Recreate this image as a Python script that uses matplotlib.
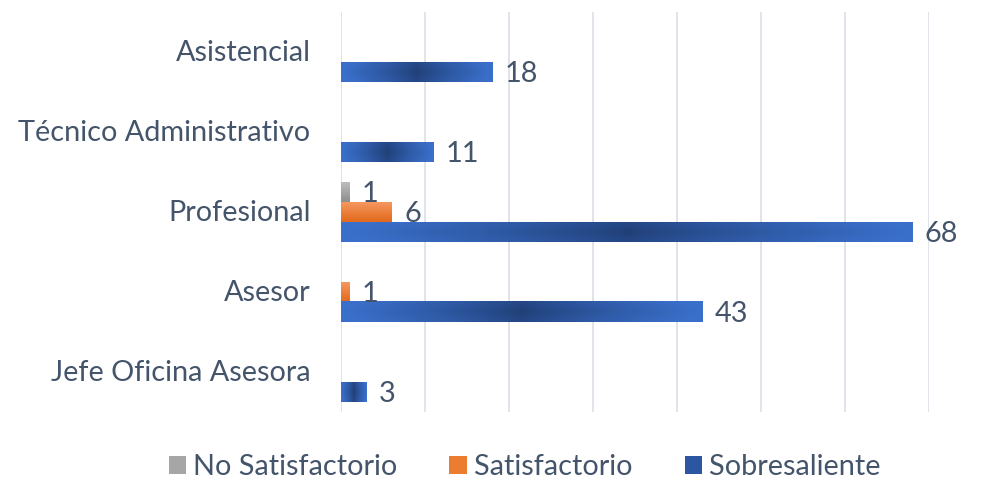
import numpy as np
import matplotlib.pyplot as plt
from matplotlib.patches import Patch

categories = ['Jefe Oficina Asesora', 'Asesor', 'Profesional',
              'Técnico Administrativo', 'Asistencial']
series_names = ['No Satisfactorio', 'Satisfactorio', 'Sobresaliente']
no_satisf = [0, 0, 1, 0, 0]
satisf = [0, 1, 6, 0, 0]
sobresal = [3, 43, 68, 11, 18]

txt_color = '#44546a'
fs = 20.8
plt.rcParams['font.family'] = ['Lato', 'DejaVu Sans']


def hex2rgb(h):
    h = h.lstrip('#')
    return np.array([int(h[i:i + 2], 16) for i in (0, 2, 4)]) / 255.0


def blue_grad(nx=300, ny=24):
    dx = np.abs(np.linspace(-1, 1, nx))[None, :]
    dy = np.abs(np.linspace(-1, 1, ny))[:, None]
    t = np.clip(dx + 0.12 * dy, 0, 1) ** 0.8
    t = t[..., None]
    c0 = hex2rgb('#203e75')
    c1 = hex2rgb('#3a6fca')
    return c0 * (1 - t) + c1 * t


def vert_grad(top, bottom, ny=24):
    t = np.linspace(0, 1, ny)[:, None, None]  # 0 = bottom (origin lower)
    img = hex2rgb(bottom) * (1 - t) + hex2rgb(top) * t
    return np.repeat(img, 2, axis=1)


fig = plt.figure(figsize=(10.07, 4.82), dpi=100)
ax = fig.add_axes([341 / 1007, 1 - 412 / 482, 588 / 1007, 400 / 482])

h = 0.25
y = np.arange(len(categories))
series = [(no_satisf, h, lambda: vert_grad('#bdbdbd', '#8e8e8e')),
          (satisf, 0, lambda: vert_grad('#f5975f', '#e3691b')),
          (sobresal, -h, lambda: blue_grad())]

for vals, off, grad in series:
    for yi, v in zip(y, vals):
        if v == 0:
            continue
        yc = yi + off
        ax.imshow(grad(), extent=[0, v, yc - h / 2, yc + h / 2],
                  aspect='auto', interpolation='bilinear', origin='lower', zorder=3)
        ax.text(v + 1.5, yc - 0.02, str(v), va='center', ha='left',
                fontsize=fs, color=txt_color, zorder=4)

ax.set_xlim(0, 70)
ax.set_ylim(-0.5, 4.5)
ax.set_xticks(np.arange(0, 71, 10))
ax.set_xticklabels([])
ax.set_yticks(y + 0.02)
ax.set_yticklabels(categories, fontsize=fs, color=txt_color)
ax.tick_params(axis='both', length=0, pad=22)
ax.grid(axis='x', color='#dde1e8', linewidth=1.3)
ax.set_axisbelow(True)
for s in ax.spines.values():
    s.set_visible(False)

handles = [Patch(facecolor='#a6a6a6'), Patch(facecolor='#ec7c30'),
           Patch(facecolor='#2d56a0')]
fig.legend(handles, series_names, loc='center', bbox_to_anchor=(0.521, 1 - 467 / 482),
           ncol=3, frameon=False, fontsize=fs, labelcolor=txt_color,
           handlelength=0.6, handleheight=0.6, handletextpad=0.25, columnspacing=1.8)

fig.savefig('out.png', dpi=100)
